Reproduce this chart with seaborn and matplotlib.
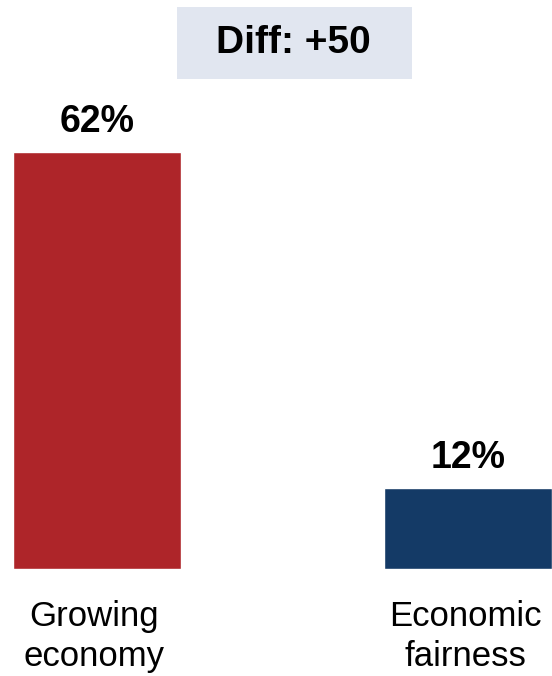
import matplotlib
matplotlib.use("Agg")
import matplotlib.pyplot as plt
import matplotlib.transforms as mtransforms
from matplotlib.patches import Rectangle
import seaborn as sns
import pandas as pd

categories = ["Growing\neconomy", "Economic\nfairness"]
values = [62, 12]
value_labels = ["62%", "12%"]
bar_colors = ["#AE2529", "#143A66"]
diff_label = "Diff: +50"

sns.set_theme(style="white")
plt.rcParams["font.family"] = ["Liberation Sans", "DejaVu Sans"]

W, H = 552, 676
fig = plt.figure(figsize=(W / 100, H / 100), dpi=100)
ax = fig.add_axes([0, 1 - 569 / H, 1, 569 / H])

df = pd.DataFrame({"category": categories, "value": values})
sns.barplot(data=df, x="category", y="value", hue="category",
            palette=bar_colors, width=0.453, legend=False, ax=ax,
            saturation=1)

ax.set_xlim(-0.2615, 1.2264)
ax.set_ylim(0, 84.6)
ax.set_xticks([])
ax.set_yticks([])
ax.set_xlabel("")
ax.set_ylabel("")
for s in ax.spines.values():
    s.set_visible(False)

# value labels above each bar
for i, (v, lab) in enumerate(zip(values, value_labels)):
    ax.annotate(lab, xy=(i, v), xytext=(0, 14.4), textcoords="offset points",
                ha="center", va="baseline", fontsize=27, fontweight="bold",
                color="black")

# category labels below the bars
trans = mtransforms.blended_transform_factory(ax.transData, ax.transAxes)
for i, cat in enumerate(categories):
    ax.annotate(cat, xy=(i, 0), xycoords=trans, xytext=(-2, -22),
                textcoords="offset points", ha="center", va="top",
                fontsize=25, color="black", linespacing=1.3)

# difference box at the top
fig.patches.append(Rectangle((177 / W, 1 - 79 / H), 235 / W, 72 / H,
                             transform=fig.transFigure, facecolor="#E1E6F0",
                             edgecolor="none", zorder=0))
fig.text(293 / W, 1 - 43 / H, diff_label, ha="center", va="center",
         fontsize=28, fontweight="bold", color="black")

fig.savefig("out.png", dpi=100)
